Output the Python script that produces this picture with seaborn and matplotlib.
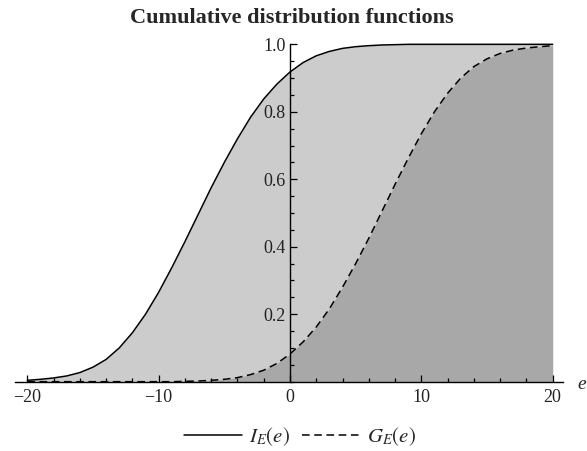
import numpy as np
import pandas as pd
import matplotlib
matplotlib.use("Agg")
import matplotlib.pyplot as plt
import seaborn as sns
from matplotlib.ticker import MultipleLocator, FixedLocator
from matplotlib.lines import Line2D

# ---- data ----
e_vals = list(range(-20, 21))
I_vals = [0.004, 0.007, 0.011, 0.017, 0.027, 0.043, 0.066, 0.100, 0.145, 0.200,
          0.265, 0.338, 0.415, 0.495, 0.575, 0.650, 0.720, 0.784, 0.838, 0.882,
          0.918, 0.946, 0.966, 0.979, 0.988, 0.993, 0.996, 0.998, 0.999, 1.000,
          1.000, 1.000, 1.000, 1.000, 1.000, 1.000, 1.000, 1.000, 1.000, 1.000, 1.000]
G_vals = [0.000, 0.000, 0.000, 0.000, 0.000, 0.000, 0.000, 0.000, 0.000, 0.000,
          0.000, 0.000, 0.001, 0.002, 0.004, 0.007, 0.012, 0.021, 0.034, 0.054,
          0.082, 0.118, 0.162, 0.216, 0.280, 0.350, 0.425, 0.505, 0.585, 0.662,
          0.735, 0.800, 0.855, 0.900, 0.934, 0.957, 0.973, 0.983, 0.989, 0.993, 0.996]
series_labels = [r"$I_E(e)$", r"$G_E(e)$"]
title_text = "Cumulative distribution functions"
x_tick_vals = [-20, -10, 0, 10, 20]
y_tick_vals = [0.2, 0.4, 0.6, 0.8, 1.0]
y_tick_labels = ["0.2", "0.4", "0.6", "0.8", "1.0"]

sns.set_style("ticks")
plt.rcParams["font.family"] = ["Liberation Serif", "DejaVu Serif"]
plt.rcParams["mathtext.fontset"] = "stix"

df = pd.DataFrame({"e": e_vals, "I": I_vals, "G": G_vals})

fig = plt.figure(figsize=(5.87, 4.51), dpi=100)
ax = fig.add_axes([0.0264, 0.1537, 0.933, 0.748])
ax.set_axisbelow(False)

ax.fill_between(df["e"], 0, df["I"], color="#cccccc", lw=0, zorder=1)
ax.fill_between(df["e"], 0, df["G"], color="#a8a8a8", lw=0, zorder=2)
sns.lineplot(data=df, x="e", y="I", ax=ax, color="black", lw=1.1, zorder=3)
sns.lineplot(data=df, x="e", y="G", ax=ax, color="black", lw=1.1,
             linestyle=(0, (5, 3)), zorder=3)
for ln in ax.get_lines():
    ln.set_clip_on(False)

ax.set_xlim(-20.9, 20.8)
ax.set_ylim(0, 1.0)
ax.set_xlabel("")
ax.set_ylabel("")

for s in ["top", "right"]:
    ax.spines[s].set_visible(False)
ax.spines["left"].set_position(("data", 0))
ax.spines["bottom"].set_position(("data", 0))
for s in ["left", "bottom"]:
    ax.spines[s].set_linewidth(1.0)
    ax.spines[s].set_color("black")
    ax.spines[s].set_zorder(4)

ax.xaxis.set_major_locator(FixedLocator(x_tick_vals))
ax.set_xticklabels(["\u2212" + str(-v) if v < 0 else str(v) for v in x_tick_vals])
ax.xaxis.set_minor_locator(MultipleLocator(2))
ax.yaxis.set_major_locator(FixedLocator(y_tick_vals))
ax.set_yticklabels(y_tick_labels)
ax.yaxis.set_minor_locator(MultipleLocator(0.05))
ax.tick_params(which="both", direction="in", color="black", width=0.9,
               bottom=True, left=True, top=False, right=False,
               labelsize=13, labelcolor="#222222")
ax.tick_params(which="major", length=5, pad=3)
ax.tick_params(which="minor", length=3)
ax.tick_params(axis="x", which="major", pad=5)

ax.text(22.2, -0.008, "e", fontsize=14, style="italic", ha="center",
        va="center", clip_on=False)

fig.text(292 / 587, 1 - 18 / 451, title_text, ha="center", va="center",
         fontsize=16, fontweight="bold")

handles = [Line2D([], [], color="black", lw=1.1),
           Line2D([], [], color="black", lw=1.1, linestyle=(0, (5, 3)))]
fig.legend(handles, series_labels, loc="center", ncol=2, frameon=False,
           bbox_to_anchor=(300 / 587, 1 - 437 / 451), fontsize=15,
           handlelength=2.8, handletextpad=0.3, columnspacing=0.6)

fig.savefig("out.png", dpi=100)
